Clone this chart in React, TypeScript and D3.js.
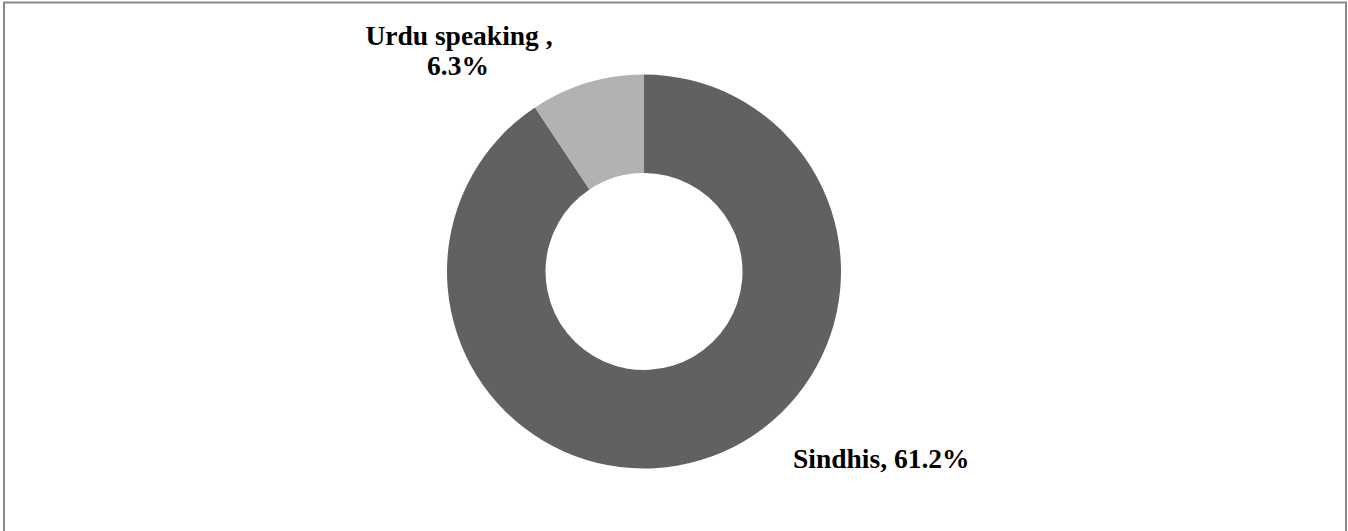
import React from "react";
import * as d3 from "d3";

const categories = ["Sindhis", "Urdu speaking "];
const values = [61.2, 6.3];
const colors = ["#616161", "#b2b2b2"];

export default function App() {
  const W = 1348, H = 531;
  const cx = 644, cy = 271.5, R = 197, r = 98.5;
  const pie = d3.pie<number>().sort(null).value((d) => d);
  const arcs = pie(values);
  const arc = d3.arc<d3.PieArcDatum<number>>().innerRadius(r).outerRadius(R);
  const font = "'Liberation Serif', 'DejaVu Serif', serif";
  const fs = 27.5;
  return (
    <svg width={W} height={H} style={{ position: "absolute", left: 0, top: 0 }}>
      <rect x={0} y={0} width={W} height={H} fill="#fff" />
      <rect x={4} y={2.5} width={1342} height={540} fill="none" stroke="#888" strokeWidth={2} />
      <g transform={`translate(${cx},${cy})`}>
        {arcs.map((a, i) => (
          <path key={i} d={arc(a) || ""} fill={colors[i]} />
        ))}
      </g>
      <text x={459} y={45} textAnchor="middle" fontFamily={font} fontWeight="bold" fontSize={fs}>
        {categories[1]},
      </text>
      <text x={458} y={75} textAnchor="middle" fontFamily={font} fontWeight="bold" fontSize={fs}>
        {values[1].toFixed(1)}%
      </text>
      <text x={793} y={468} fontFamily={font} fontWeight="bold" fontSize={fs}>
        {categories[0]}, {values[0].toFixed(1)}%
      </text>
    </svg>
  );
}
